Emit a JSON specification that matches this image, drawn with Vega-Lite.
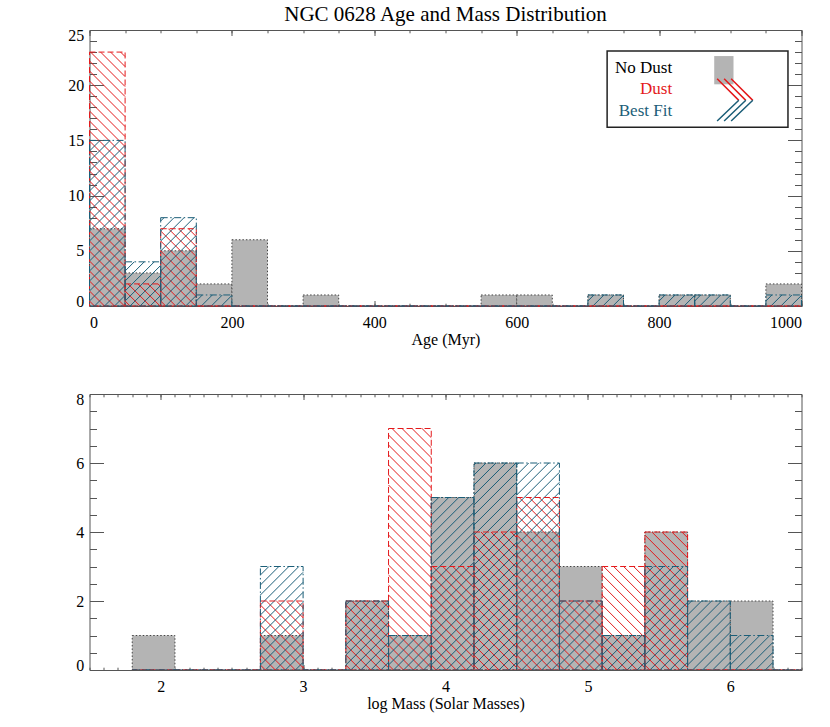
{
"$schema": "https://vega.github.io/schema/vega-lite/v6.json",
"padding": {"left": 67.5, "top": 4, "right": 5, "bottom": 5},
"bounds": "flush",
"spacing": 88,
"title": {"text": "NGC 0628 Age and Mass Distribution", "font": "Liberation Serif", "fontSize": 21, "fontWeight": "normal", "color": "black", "frame": "group", "anchor": "middle", "baseline": "alphabetic", "offset": -15},
"config": {
  "view": {"stroke": null},
  "axis": {"grid": false, "minExtent": 0, "domainColor": "#555", "tickColor": "#555", "tickWidth": 1, "domainWidth": 1, "labelFont": "Liberation Serif", "labelFontSize": 16, "labelColor": "black", "titleFont": "Liberation Serif", "titleFontSize": 16, "titleFontWeight": "normal", "titleColor": "black", "zindex": 1, "format": "d"}
},
"datasets": {
  "age": [
    {"s":"No Dust","lo":0,"hi":50,"n":7},{"s":"No Dust","lo":50,"hi":100,"n":3},{"s":"No Dust","lo":100,"hi":150,"n":5},{"s":"No Dust","lo":150,"hi":200,"n":2},{"s":"No Dust","lo":200,"hi":250,"n":6},{"s":"No Dust","lo":250,"hi":300,"n":0},{"s":"No Dust","lo":300,"hi":350,"n":1},{"s":"No Dust","lo":350,"hi":400,"n":0},{"s":"No Dust","lo":400,"hi":450,"n":0},{"s":"No Dust","lo":450,"hi":500,"n":0},{"s":"No Dust","lo":500,"hi":550,"n":0},{"s":"No Dust","lo":550,"hi":600,"n":1},{"s":"No Dust","lo":600,"hi":650,"n":1},{"s":"No Dust","lo":650,"hi":700,"n":0},{"s":"No Dust","lo":700,"hi":750,"n":1},{"s":"No Dust","lo":750,"hi":800,"n":0},{"s":"No Dust","lo":800,"hi":850,"n":1},{"s":"No Dust","lo":850,"hi":900,"n":1},{"s":"No Dust","lo":900,"hi":950,"n":0},{"s":"No Dust","lo":950,"hi":1000,"n":2},
    {"s":"Dust","lo":0,"hi":50,"n":23},{"s":"Dust","lo":50,"hi":100,"n":2},{"s":"Dust","lo":100,"hi":150,"n":7},{"s":"Dust","lo":150,"hi":200,"n":0},{"s":"Dust","lo":200,"hi":250,"n":0},{"s":"Dust","lo":250,"hi":300,"n":0},{"s":"Dust","lo":300,"hi":350,"n":0},{"s":"Dust","lo":350,"hi":400,"n":0},{"s":"Dust","lo":400,"hi":450,"n":0},{"s":"Dust","lo":450,"hi":500,"n":0},{"s":"Dust","lo":500,"hi":550,"n":0},{"s":"Dust","lo":550,"hi":600,"n":0},{"s":"Dust","lo":600,"hi":650,"n":0},{"s":"Dust","lo":650,"hi":700,"n":0},{"s":"Dust","lo":700,"hi":750,"n":0},{"s":"Dust","lo":750,"hi":800,"n":0},{"s":"Dust","lo":800,"hi":850,"n":0},{"s":"Dust","lo":850,"hi":900,"n":0},{"s":"Dust","lo":900,"hi":950,"n":0},{"s":"Dust","lo":950,"hi":1000,"n":0},
    {"s":"Best Fit","lo":0,"hi":50,"n":15},{"s":"Best Fit","lo":50,"hi":100,"n":4},{"s":"Best Fit","lo":100,"hi":150,"n":8},{"s":"Best Fit","lo":150,"hi":200,"n":1},{"s":"Best Fit","lo":200,"hi":250,"n":0},{"s":"Best Fit","lo":250,"hi":300,"n":0},{"s":"Best Fit","lo":300,"hi":350,"n":0},{"s":"Best Fit","lo":350,"hi":400,"n":0},{"s":"Best Fit","lo":400,"hi":450,"n":0},{"s":"Best Fit","lo":450,"hi":500,"n":0},{"s":"Best Fit","lo":500,"hi":550,"n":0},{"s":"Best Fit","lo":550,"hi":600,"n":0},{"s":"Best Fit","lo":600,"hi":650,"n":0},{"s":"Best Fit","lo":650,"hi":700,"n":0},{"s":"Best Fit","lo":700,"hi":750,"n":1},{"s":"Best Fit","lo":750,"hi":800,"n":0},{"s":"Best Fit","lo":800,"hi":850,"n":1},{"s":"Best Fit","lo":850,"hi":900,"n":1},{"s":"Best Fit","lo":900,"hi":950,"n":0},{"s":"Best Fit","lo":950,"hi":1000,"n":1}
  ],
  "mass": [
    {"s":"No Dust","lo":1.8,"hi":2.1,"n":1},{"s":"No Dust","lo":2.1,"hi":2.4,"n":0},{"s":"No Dust","lo":2.4,"hi":2.7,"n":0},{"s":"No Dust","lo":2.7,"hi":3.0,"n":1},{"s":"No Dust","lo":3.0,"hi":3.3,"n":0},{"s":"No Dust","lo":3.3,"hi":3.6,"n":2},{"s":"No Dust","lo":3.6,"hi":3.9,"n":1},{"s":"No Dust","lo":3.9,"hi":4.2,"n":5},{"s":"No Dust","lo":4.2,"hi":4.5,"n":6},{"s":"No Dust","lo":4.5,"hi":4.8,"n":4},{"s":"No Dust","lo":4.8,"hi":5.1,"n":3},{"s":"No Dust","lo":5.1,"hi":5.4,"n":1},{"s":"No Dust","lo":5.4,"hi":5.7,"n":4},{"s":"No Dust","lo":5.7,"hi":6.0,"n":2},{"s":"No Dust","lo":6.0,"hi":6.3,"n":2},{"s":"No Dust","lo":6.3,"hi":6.5,"n":0},
    {"s":"Dust","lo":1.8,"hi":2.1,"n":0},{"s":"Dust","lo":2.1,"hi":2.4,"n":0},{"s":"Dust","lo":2.4,"hi":2.7,"n":0},{"s":"Dust","lo":2.7,"hi":3.0,"n":2},{"s":"Dust","lo":3.0,"hi":3.3,"n":0},{"s":"Dust","lo":3.3,"hi":3.6,"n":2},{"s":"Dust","lo":3.6,"hi":3.9,"n":7},{"s":"Dust","lo":3.9,"hi":4.2,"n":3},{"s":"Dust","lo":4.2,"hi":4.5,"n":4},{"s":"Dust","lo":4.5,"hi":4.8,"n":5},{"s":"Dust","lo":4.8,"hi":5.1,"n":2},{"s":"Dust","lo":5.1,"hi":5.4,"n":3},{"s":"Dust","lo":5.4,"hi":5.7,"n":4},{"s":"Dust","lo":5.7,"hi":6.0,"n":0},{"s":"Dust","lo":6.0,"hi":6.3,"n":0},{"s":"Dust","lo":6.3,"hi":6.5,"n":0},
    {"s":"Best Fit","lo":1.8,"hi":2.1,"n":0},{"s":"Best Fit","lo":2.1,"hi":2.4,"n":0},{"s":"Best Fit","lo":2.4,"hi":2.7,"n":0},{"s":"Best Fit","lo":2.7,"hi":3.0,"n":3},{"s":"Best Fit","lo":3.0,"hi":3.3,"n":0},{"s":"Best Fit","lo":3.3,"hi":3.6,"n":2},{"s":"Best Fit","lo":3.6,"hi":3.9,"n":1},{"s":"Best Fit","lo":3.9,"hi":4.2,"n":5},{"s":"Best Fit","lo":4.2,"hi":4.5,"n":6},{"s":"Best Fit","lo":4.5,"hi":4.8,"n":6},{"s":"Best Fit","lo":4.8,"hi":5.1,"n":2},{"s":"Best Fit","lo":5.1,"hi":5.4,"n":1},{"s":"Best Fit","lo":5.4,"hi":5.7,"n":3},{"s":"Best Fit","lo":5.7,"hi":6.0,"n":2},{"s":"Best Fit","lo":6.0,"hi":6.3,"n":1},{"s":"Best Fit","lo":6.3,"hi":6.5,"n":0}
  ]
},
"vconcat": [
{
  "width": 712, "height": 276,
  "data": {"name": "age"},
  "resolve": {"scale": {"shape": "independent"}, "axis": {"x": "independent", "y": "independent"}},
  "layer": [
    {
      "transform": [{"filter": "datum.s == 'No Dust'"}],
      "mark": {"type": "bar", "fill": "#b4b4b4", "stroke": "#444", "strokeWidth": 1, "strokeDash": [1.5, 2]},
      "encoding": {
        "x": {"field": "lo", "type": "quantitative", "scale": {"domain": [0, 1000], "nice": false}, "axis": {"orient": "bottom", "values": [0,200,400,600,800,1000], "tickSize": -5.5, "labelPadding": 14, "title": "Age (Myr)", "titlePadding": 1}},
        "x2": {"field": "hi"},
        "y": {"field": "n", "type": "quantitative", "scale": {"domain": [0, 25], "nice": false}, "axis": {"orient": "left", "values": [0,5,10,15,20,25], "tickSize": -14, "labelPadding": 19.7, "labelFlush": true, "labelFlushOffset": 3, "title": null}},
        "y2": {"datum": 0}
      }
    },
    {
      "transform": [{"filter": "datum.s == 'Dust' && datum.n > 0"}],
      "mark": {"type": "point", "size": 4, "filled": false, "stroke": "#e41a1c", "strokeWidth": 1, "opacity": 1},
      "encoding": {
        "x": {"field": "lo", "type": "quantitative", "axis": {"orient": "bottom", "values": [0,50,100,150,200,250,300,350,400,450,500,550,600,650,700,750,800,850,900,950,1000], "tickSize": -2.8, "labels": false, "domain": false, "title": null}},
        "y": {"datum": 0, "type": "quantitative", "axis": {"orient": "left", "values": [0,1,2,3,4,5,6,7,8,9,10,11,12,13,14,15,16,17,18,19,20,21,22,23,24,25], "tickSize": -7, "labels": false, "domain": false, "title": null}},
        "shape": {"field": "n", "type": "nominal", "legend": null, "scale": {"domain": [2, 7, 23], "range": [
          "M0,-5L5,0M0,-15L15,0M2.9,-22.1L25,0M12.9,-22.1L35,0M22.9,-22.1l12.7,12.7M32.9,-22.1l2.7,2.7",
          "M0,-5L5,0M0,-15L15,0M0,-25L25,0M0,-35L35,0M0,-45l35.6,35.6M0,-55l35.6,35.6M0,-65l35.6,35.6M0,-75l35.6,35.6M7.7,-77.3l27.9,27.9M17.7,-77.3l17.9,17.9M27.7,-77.3l7.9,7.9",
          "M0,-5L5,0M0,-15L15,0M0,-25L25,0M0,-35L35,0M0,-45l35.6,35.6M0,-55l35.6,35.6M0,-65l35.6,35.6M0,-75l35.6,35.6M0,-85l35.6,35.6M0,-95l35.6,35.6M0,-105l35.6,35.6M0,-115l35.6,35.6M0,-125l35.6,35.6M0,-135l35.6,35.6M0,-145l35.6,35.6M0,-155l35.6,35.6M0,-165l35.6,35.6M0,-175l35.6,35.6M0,-185l35.6,35.6M0,-195l35.6,35.6M0,-205l35.6,35.6M0,-215l35.6,35.6M0,-225l35.6,35.6M0,-235l35.6,35.6M0,-245l35.6,35.6M1.1,-253.9l34.5,34.5M11.1,-253.9l24.5,24.5M21.1,-253.9l14.5,14.5M31.1,-253.9l4.5,4.5"
        ]}}
      }
    },
    {
      "transform": [{"filter": "datum.s == 'Best Fit' && datum.n > 0"}],
      "mark": {"type": "point", "size": 4, "filled": false, "stroke": "#1b5e78", "strokeWidth": 1, "opacity": 1},
      "encoding": {
        "x": {"field": "lo", "type": "quantitative", "axis": {"orient": "top", "values": [0,200,400,600,800,1000], "tickSize": -5.5, "labels": false, "title": null}},
        "y": {"datum": 0, "type": "quantitative", "axis": {"orient": "right", "values": [0,5,10,15,20,25], "tickSize": -14, "labels": false, "title": null}},
        "shape": {"field": "n", "type": "nominal", "legend": null, "scale": {"domain": [1, 4, 8, 15], "range": [
          "M25,0l10.6,-10.6M15,0l11,-11M5,0l11,-11M0,-5l6,-6",
          "M25,0l10.6,-10.6M15,0l20.6,-20.6M5,0l30.6,-30.6M0,-5l35.6,-35.6M0,-15l29.2,-29.2M0,-25l19.2,-19.2M0,-35l9.2,-9.2",
          "M25,0l10.6,-10.6M15,0l20.6,-20.6M5,0l30.6,-30.6M0,-5l35.6,-35.6M0,-15l35.6,-35.6M0,-25l35.6,-35.6M0,-35l35.6,-35.6M0,-45l35.6,-35.6M0,-55l33.3,-33.3M0,-65l23.3,-23.3M0,-75l13.3,-13.3M0,-85l3.3,-3.3",
          "M25,0l10.6,-10.6M15,0l20.6,-20.6M5,0l30.6,-30.6M0,-5l35.6,-35.6M0,-15l35.6,-35.6M0,-25l35.6,-35.6M0,-35l35.6,-35.6M0,-45l35.6,-35.6M0,-55l35.6,-35.6M0,-65l35.6,-35.6M0,-75l35.6,-35.6M0,-85l35.6,-35.6M0,-95l35.6,-35.6M0,-105l35.6,-35.6M0,-115l35.6,-35.6M0,-125l35.6,-35.6M0,-135l30.6,-30.6M0,-145l20.6,-20.6M0,-155l10.6,-10.6"
        ]}}
      }
    },
    {
      "transform": [{"filter": "datum.s == 'Dust'"}],
      "mark": {"type": "bar", "filled": false, "stroke": "#e41a1c", "strokeWidth": 1, "strokeDash": [6, 3]},
      "encoding": {
        "x": {"field": "lo", "type": "quantitative", "axis": {"orient": "top", "values": [0,50,100,150,200,250,300,350,400,450,500,550,600,650,700,750,800,850,900,950,1000], "tickSize": -2.8, "labels": false, "domain": false, "title": null}},
        "x2": {"field": "hi"},
        "y": {"field": "n", "type": "quantitative", "axis": {"orient": "right", "values": [0,1,2,3,4,5,6,7,8,9,10,11,12,13,14,15,16,17,18,19,20,21,22,23,24,25], "tickSize": -7, "labels": false, "domain": false, "title": null}},
        "y2": {"datum": 0}
      }
    },
    {
      "transform": [{"filter": "datum.s == 'Best Fit'"}],
      "mark": {"type": "bar", "filled": false, "stroke": "#1b5e78", "strokeWidth": 1, "strokeDash": [7, 2.5, 1.5, 2.5]},
      "encoding": {
        "x": {"field": "lo", "type": "quantitative", "axis": null},
        "x2": {"field": "hi"},
        "y": {"field": "n", "type": "quantitative", "axis": null},
        "y2": {"datum": 0}
      }
    },
    {
      "data": {"values": [{}]},
      "mark": {"type": "rect", "fill": "white", "stroke": "#222", "strokeWidth": 1.5},
      "encoding": {"x": {"datum": 727, "type": "quantitative", "axis": null}, "x2": {"datum": 981}, "y": {"datum": 23.1, "type": "quantitative", "axis": null}, "y2": {"datum": 16.2}}
    },
    {
      "data": {"values": [{}]},
      "mark": {"type": "text", "align": "right", "baseline": "alphabetic", "font": "Liberation Serif", "fontSize": 17, "color": "black"},
      "encoding": {"x": {"datum": 818.3, "type": "quantitative", "axis": null}, "y": {"datum": 21.13, "type": "quantitative", "axis": null}, "text": {"value": "No Dust"}}
    },
    {
      "data": {"values": [{}]},
      "mark": {"type": "text", "align": "right", "baseline": "alphabetic", "font": "Liberation Serif", "fontSize": 17, "color": "#e41a1c"},
      "encoding": {"x": {"datum": 818.3, "type": "quantitative", "axis": null}, "y": {"datum": 19.18, "type": "quantitative", "axis": null}, "text": {"value": "Dust"}}
    },
    {
      "data": {"values": [{}]},
      "mark": {"type": "text", "align": "right", "baseline": "alphabetic", "font": "Liberation Serif", "fontSize": 17, "color": "#1b5e78"},
      "encoding": {"x": {"datum": 818.3, "type": "quantitative", "axis": null}, "y": {"datum": 17.21, "type": "quantitative", "axis": null}, "text": {"value": "Best Fit"}}
    },
    {
      "data": {"values": [{}]},
      "mark": {"type": "rect", "fill": "#b4b4b4"},
      "encoding": {"x": {"datum": 877.4, "type": "quantitative", "axis": null}, "x2": {"datum": 904.5}, "y": {"datum": 22.64, "type": "quantitative", "axis": null}, "y2": {"datum": 20.08}}
    },
    {
      "data": {"values": [{}]},
      "mark": {"type": "point", "shape": "M0,0l21.7,21.7M7,0l21.7,21.7M14,0l21.7,21.7", "size": 4, "filled": false, "stroke": "#e41a1c", "strokeWidth": 1.5, "opacity": 1},
      "encoding": {"x": {"datum": 881.5, "type": "quantitative", "axis": null}, "y": {"datum": 20.59, "type": "quantitative", "axis": null}}
    },
    {
      "data": {"values": [{}]},
      "mark": {"type": "point", "shape": "M0,0l21.7,-20.7M7,0l21.7,-20.7M14,0l21.7,-20.7", "size": 4, "filled": false, "stroke": "#1b5e78", "strokeWidth": 1.5, "opacity": 1},
      "encoding": {"x": {"datum": 881.5, "type": "quantitative", "axis": null}, "y": {"datum": 16.76, "type": "quantitative", "axis": null}}
    }
  ]
},
{
  "width": 712, "height": 276,
  "data": {"name": "mass"},
  "resolve": {"scale": {"shape": "independent"}, "axis": {"x": "independent", "y": "independent"}},
  "layer": [
    {
      "transform": [{"filter": "datum.s == 'No Dust'"}],
      "mark": {"type": "bar", "fill": "#b4b4b4", "stroke": "#444", "strokeWidth": 1, "strokeDash": [1.5, 2], "clip": true},
      "encoding": {
        "x": {"field": "lo", "type": "quantitative", "scale": {"domain": [1.5, 6.5], "nice": false, "zero": false}, "axis": {"orient": "bottom", "values": [2,3,4,5,6], "tickSize": -5.5, "labelPadding": 14, "title": "log Mass (Solar Masses)", "titlePadding": 1}},
        "x2": {"field": "hi"},
        "y": {"field": "n", "type": "quantitative", "scale": {"domain": [0, 8], "nice": false}, "axis": {"orient": "left", "values": [0,2,4,6,8], "tickSize": -14, "labelPadding": 19.7, "labelFlush": true, "labelFlushOffset": 3, "title": null}},
        "y2": {"datum": 0}
      }
    },
    {
      "transform": [{"filter": "datum.s == 'Dust' && datum.n > 0"}],
      "mark": {"type": "point", "size": 4, "filled": false, "stroke": "#e41a1c", "strokeWidth": 1, "opacity": 1},
      "encoding": {
        "x": {"field": "lo", "type": "quantitative", "axis": {"orient": "bottom", "values": [1.5,1.6,1.7,1.8,1.9,2,2.1,2.2,2.3,2.4,2.5,2.6,2.7,2.8,2.9,3,3.1,3.2,3.3,3.4,3.5,3.6,3.7,3.8,3.9,4,4.1,4.2,4.3,4.4,4.5,4.6,4.7,4.8,4.9,5,5.1,5.2,5.3,5.4,5.5,5.6,5.7,5.8,5.9,6,6.1,6.2,6.3,6.4,6.5], "tickSize": -2.8, "labels": false, "domain": false, "title": null}},
        "y": {"datum": 0, "type": "quantitative", "axis": {"orient": "left", "values": [0,0.5,1,1.5,2,2.5,3,3.5,4,4.5,5,5.5,6,6.5,7,7.5,8], "tickSize": -7, "labels": false, "domain": false, "title": null}},
        "shape": {"field": "n", "type": "nominal", "legend": null, "scale": {"domain": [2, 3, 4, 5, 7], "range": [
          "M0,-5L5,0M0,-15L15,0M0,-25L25,0M0,-35L35,0M0,-45l42.7,42.7M0,-55l42.7,42.7M0,-65l42.7,42.7M6,-69l36.7,36.7M16,-69l26.7,26.7M26,-69l16.7,16.7M36,-69l6.7,6.7",
          "M0,-5L5,0M0,-15L15,0M0,-25L25,0M0,-35L35,0M0,-45l42.7,42.7M0,-55l42.7,42.7M0,-65l42.7,42.7M0,-75l42.7,42.7M0,-85l42.7,42.7M0,-95l42.7,42.7M1.5,-103.5l41.2,41.2M11.5,-103.5l31.2,31.2M21.5,-103.5l21.2,21.2M31.5,-103.5l11.2,11.2",
          "M0,-5L5,0M0,-15L15,0M0,-25L25,0M0,-35L35,0M0,-45l42.7,42.7M0,-55l42.7,42.7M0,-65l42.7,42.7M0,-75l42.7,42.7M0,-85l42.7,42.7M0,-95l42.7,42.7M0,-105l42.7,42.7M0,-115l42.7,42.7M0,-125l42.7,42.7M0,-135l42.7,42.7M7,-138l35.7,35.7M17,-138l25.7,25.7M27,-138l15.7,15.7M37,-138l5.7,5.7",
          "M0,-5L5,0M0,-15L15,0M0,-25L25,0M0,-35L35,0M0,-45l42.7,42.7M0,-55l42.7,42.7M0,-65l42.7,42.7M0,-75l42.7,42.7M0,-85l42.7,42.7M0,-95l42.7,42.7M0,-105l42.7,42.7M0,-115l42.7,42.7M0,-125l42.7,42.7M0,-135l42.7,42.7M0,-145l42.7,42.7M0,-155l42.7,42.7M0,-165l42.7,42.7M2.5,-172.5l40.2,40.2M12.5,-172.5l30.2,30.2M22.5,-172.5l20.2,20.2M32.5,-172.5l10.2,10.2",
          "M0,-5L5,0M0,-15L15,0M0,-25L25,0M0,-35L35,0M0,-45l42.7,42.7M0,-55l42.7,42.7M0,-65l42.7,42.7M0,-75l42.7,42.7M0,-85l42.7,42.7M0,-95l42.7,42.7M0,-105l42.7,42.7M0,-115l42.7,42.7M0,-125l42.7,42.7M0,-135l42.7,42.7M0,-145l42.7,42.7M0,-155l42.7,42.7M0,-165l42.7,42.7M0,-175l42.7,42.7M0,-185l42.7,42.7M0,-195l42.7,42.7M0,-205l42.7,42.7M0,-215l42.7,42.7M0,-225l42.7,42.7M0,-235l42.7,42.7M3.5,-241.5l39.2,39.2M13.5,-241.5l29.2,29.2M23.5,-241.5l19.2,19.2M33.5,-241.5l9.2,9.2"
        ]}}
      }
    },
    {
      "transform": [{"filter": "datum.s == 'Best Fit' && datum.n > 0"}],
      "mark": {"type": "point", "size": 4, "filled": false, "stroke": "#1b5e78", "strokeWidth": 1, "opacity": 1},
      "encoding": {
        "x": {"field": "lo", "type": "quantitative", "axis": {"orient": "top", "values": [2,3,4,5,6], "tickSize": -5.5, "labels": false, "title": null}},
        "y": {"datum": 0, "type": "quantitative", "axis": {"orient": "right", "values": [0,2,4,6,8], "tickSize": -14, "labels": false, "title": null}},
        "shape": {"field": "n", "type": "nominal", "legend": null, "scale": {"domain": [1, 2, 3, 5, 6], "range": [
          "M35,0l7.7,-7.7M25,0l17.7,-17.7M15,0l27.7,-27.7M5,0l34.5,-34.5M0,-5l29.5,-29.5M0,-15l19.5,-19.5M0,-25l9.5,-9.5",
          "M35,0l7.7,-7.7M25,0l17.7,-17.7M15,0l27.7,-27.7M5,0l37.7,-37.7M0,-5l42.7,-42.7M0,-15l42.7,-42.7M0,-25l42.7,-42.7M0,-35l34,-34M0,-45l24,-24M0,-55l14,-14M0,-65l4,-4",
          "M35,0l7.7,-7.7M25,0l17.7,-17.7M15,0l27.7,-27.7M5,0l37.7,-37.7M0,-5l42.7,-42.7M0,-15l42.7,-42.7M0,-25l42.7,-42.7M0,-35l42.7,-42.7M0,-45l42.7,-42.7M0,-55l42.7,-42.7M0,-65l38.5,-38.5M0,-75l28.5,-28.5M0,-85l18.5,-18.5M0,-95l8.5,-8.5",
          "M35,0l7.7,-7.7M25,0l17.7,-17.7M15,0l27.7,-27.7M5,0l37.7,-37.7M0,-5l42.7,-42.7M0,-15l42.7,-42.7M0,-25l42.7,-42.7M0,-35l42.7,-42.7M0,-45l42.7,-42.7M0,-55l42.7,-42.7M0,-65l42.7,-42.7M0,-75l42.7,-42.7M0,-85l42.7,-42.7M0,-95l42.7,-42.7M0,-105l42.7,-42.7M0,-115l42.7,-42.7M0,-125l42.7,-42.7M0,-135l37.5,-37.5M0,-145l27.5,-27.5M0,-155l17.5,-17.5M0,-165l7.5,-7.5",
          "M35,0l7.7,-7.7M25,0l17.7,-17.7M15,0l27.7,-27.7M5,0l37.7,-37.7M0,-5l42.7,-42.7M0,-15l42.7,-42.7M0,-25l42.7,-42.7M0,-35l42.7,-42.7M0,-45l42.7,-42.7M0,-55l42.7,-42.7M0,-65l42.7,-42.7M0,-75l42.7,-42.7M0,-85l42.7,-42.7M0,-95l42.7,-42.7M0,-105l42.7,-42.7M0,-115l42.7,-42.7M0,-125l42.7,-42.7M0,-135l42.7,-42.7M0,-145l42.7,-42.7M0,-155l42.7,-42.7M0,-165l42,-42M0,-175l32,-32M0,-185l22,-22M0,-195l12,-12M0,-205l2,-2"
        ]}}
      }
    },
    {
      "transform": [{"filter": "datum.s == 'Dust'"}],
      "mark": {"type": "bar", "filled": false, "stroke": "#e41a1c", "strokeWidth": 1, "strokeDash": [6, 3], "clip": true},
      "encoding": {
        "x": {"field": "lo", "type": "quantitative", "axis": {"orient": "top", "values": [1.5,1.6,1.7,1.8,1.9,2,2.1,2.2,2.3,2.4,2.5,2.6,2.7,2.8,2.9,3,3.1,3.2,3.3,3.4,3.5,3.6,3.7,3.8,3.9,4,4.1,4.2,4.3,4.4,4.5,4.6,4.7,4.8,4.9,5,5.1,5.2,5.3,5.4,5.5,5.6,5.7,5.8,5.9,6,6.1,6.2,6.3,6.4,6.5], "tickSize": -2.8, "labels": false, "domain": false, "title": null}},
        "x2": {"field": "hi"},
        "y": {"field": "n", "type": "quantitative", "axis": {"orient": "right", "values": [0,0.5,1,1.5,2,2.5,3,3.5,4,4.5,5,5.5,6,6.5,7,7.5,8], "tickSize": -7, "labels": false, "domain": false, "title": null}},
        "y2": {"datum": 0}
      }
    },
    {
      "transform": [{"filter": "datum.s == 'Best Fit'"}],
      "mark": {"type": "bar", "filled": false, "stroke": "#1b5e78", "strokeWidth": 1, "strokeDash": [7, 2.5, 1.5, 2.5], "clip": true},
      "encoding": {
        "x": {"field": "lo", "type": "quantitative", "axis": null},
        "x2": {"field": "hi"},
        "y": {"field": "n", "type": "quantitative", "axis": null},
        "y2": {"datum": 0}
      }
    }
  ]
}
]
}
